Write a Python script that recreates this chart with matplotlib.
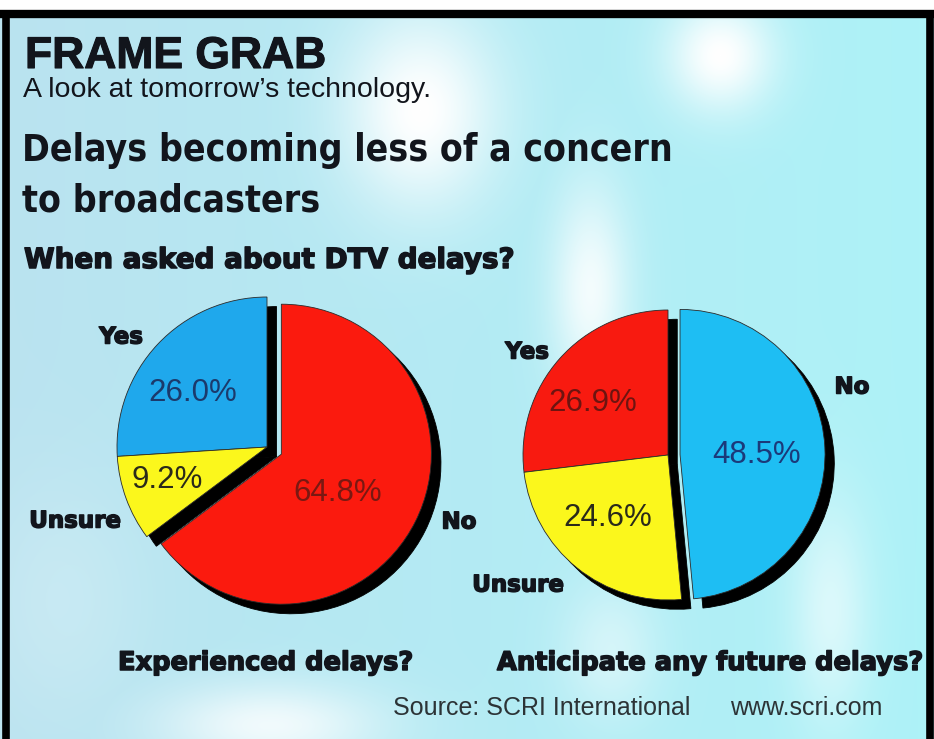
import numpy as np
import matplotlib
matplotlib.use("Agg")
import matplotlib.pyplot as plt
import matplotlib.patheffects as pe

# data
labels = ["Yes", "Unsure", "No"]
experienced = [26.0, 9.2, 64.8]
anticipate = [26.9, 24.6, 48.5]
colors_left = ["#1fa8ec", "#fbf71c", "#fb1a0e"]
colors_right = ["#f81a10", "#fbf71c", "#1ebef3"]
pct_colors_left = ["#1b3a6c", "#2a2a1a", "#7a1812"]
pct_colors_right = ["#6e1410", "#2a2a1a", "#1b3a7a"]

W, H = 934, 739
fig = plt.figure(figsize=(W / 100, H / 100), dpi=100)
fig.patch.set_facecolor("white")


def fx(x):
    return x / W


def fy(y):
    return 1 - y / H


# background: pale cyan with a few white washes
bg = fig.add_axes([0, 0, 1, 1], zorder=0)
yy, xx = np.mgrid[0:H, 0:W]
left_c = np.array([0.73, 0.89, 0.94])
right_c = np.array([0.68, 0.95, 0.97])
t = (xx / W)[..., None]
img = left_c * (1 - t) + right_c * t
wash = np.zeros((H, W))
for cx, cy, sx, sy, s in [(420, 110, 55, 70, 1.0), (720, 55, 38, 40, 1.0),
                          (590, 290, 28, 75, 0.85), (270, 725, 80, 30, 0.8),
                          (830, 610, 28, 80, 0.55), (610, 650, 35, 50, 0.45),
                          (60, 600, 60, 90, 0.2)]:
    wash = np.maximum(wash, s * np.exp(-(((xx - cx) / sx) ** 2 + ((yy - cy) / sy) ** 2) / 2))
img = img * (1 - wash[..., None]) + wash[..., None]
bg.imshow(img, extent=[0, W, H, 0], aspect="auto")
bg.set_xlim(0, W)
bg.set_ylim(H, 0)
bg.axis("off")
# frame
bg.plot([0, W], [14, 14], color="black", lw=6, solid_capstyle="butt")
bg.plot([6, 6], [10, H], color="black", lw=5.5, solid_capstyle="butt")
bg.plot([930, 930], [10, H], color="black", lw=5.5, solid_capstyle="butt")
bg.fill_between([0, W], [0, 0], [10, 10], color="white")

ink = "#12151c"
fig.text(fx(25), fy(68), "FRAME GRAB", fontsize=32, fontweight="bold",
         family="Liberation Sans", color=ink, va="baseline",
         path_effects=[pe.withStroke(linewidth=0.8, foreground=ink)])
fig.text(fx(23), fy(97), "A look at tomorrow\u2019s technology.", fontsize=20.5,
         family="Liberation Sans", color=ink, va="baseline")
head = dict(fontsize=26.8, fontweight="bold", family="DejaVu Sans",
            fontstretch="condensed", color=ink, va="baseline")
fig.text(fx(22), fy(161), "Delays becoming less of a concern", **head)
fig.text(fx(22), fy(212), "to broadcasters", **head)

heavy = [pe.withStroke(linewidth=1.1, foreground=ink)]
fig.text(fx(24), fy(268), "When asked about DTV delays?", fontsize=20,
         fontweight="bold", family="DejaVu Sans", color=ink,
         va="baseline", path_effects=heavy)


def draw_pie(values, colors, pct_colors, center, radius, explode, dist, nudge):
    span = 1.3 * radius
    ax = fig.add_axes([fx(center[0] - span), fy(center[1] + span),
                       2 * span / W, 2 * span / H], zorder=2)
    wedges, _ = ax.pie(values, colors=colors, startangle=90, explode=explode,
                       wedgeprops=dict(edgecolor="#2a2a2a", linewidth=0.6),
                       shadow=dict(ox=0.046, oy=-0.046, shade=1.0, alpha=1.0))
    for w, v, c, d, n in zip(wedges, values, pct_colors, dist, nudge):
        ang = np.deg2rad((w.theta1 + w.theta2) / 2 + n)
        cx, cy = w.center
        ax.text(cx + d * np.cos(ang), cy + d * np.sin(ang), f"{v:.1f}%",
                ha="center", va="center", fontsize=22.5,
                family="Liberation Sans", color=c)
    ax.set_xlim(-1.3, 1.3)
    ax.set_ylim(-1.3, 1.3)
    ax.axis("off")
    return ax


draw_pie(experienced, colors_left, pct_colors_left, (267, 447), 150,
         [0, 0, 0.107], [0.61, 0.70, 0.46], [7, -2, -8])
draw_pie(anticipate, colors_right, pct_colors_right, (668, 455), 145,
         [0, 0, 0.083], [0.63, 0.60, 0.53], [7, -5, -3])

lab = dict(fontsize=16.5, fontweight="bold", family="DejaVu Sans",
           color=ink, ha="center", va="center", path_effects=heavy)
fig.text(fx(121), fy(337), "Yes", **lab)
fig.text(fx(75), fy(521), "Unsure", **lab)
fig.text(fx(459), fy(522), "No", **lab)
fig.text(fx(527), fy(352), "Yes", **lab)
fig.text(fx(852), fy(387), "No", **lab)
fig.text(fx(518), fy(585), "Unsure", **lab)

sub = dict(fontsize=18.5, fontweight="bold", family="DejaVu Sans",
           color=ink, va="center", path_effects=heavy)
fig.text(fx(118), fy(663), "Experienced delays?", **sub)
fig.text(fx(497), fy(663), "Anticipate any future delays?", **sub)
src = dict(fontsize=18, family="Liberation Sans", color="#2c3336", va="center")
fig.text(fx(393), fy(708), "Source: SCRI International", ha="left", **src)
fig.text(fx(882), fy(708), "www.scri.com", ha="right", **src)

fig.savefig("out.png", dpi=100)
